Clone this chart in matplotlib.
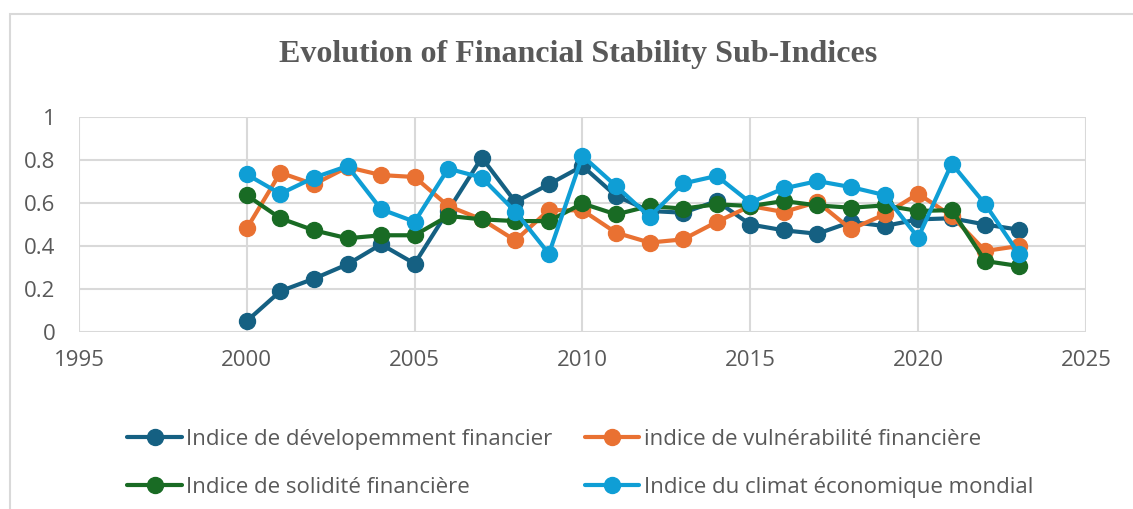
import matplotlib.pyplot as plt
from matplotlib.patches import Rectangle

years = list(range(2000, 2024))

dev_fin = [0.051, 0.19, 0.248, 0.315, 0.408, 0.318, 0.565, 0.811, 0.605, 0.687,
           0.772, 0.633, 0.563, 0.555, 0.609, 0.50, 0.473, 0.457, 0.512, 0.493,
           0.524, 0.529, 0.50, 0.476]
vuln_fin = [0.482, 0.741, 0.687, 0.767, 0.73, 0.721, 0.586, 0.524, 0.426, 0.567,
            0.566, 0.462, 0.416, 0.431, 0.512, 0.586, 0.558, 0.605, 0.478, 0.547,
            0.643, 0.54, 0.377, 0.40]
solid_fin = [0.636, 0.529, 0.473, 0.436, 0.45, 0.45, 0.54, 0.524, 0.516, 0.516,
             0.598, 0.547, 0.586, 0.574, 0.594, 0.586, 0.609, 0.589, 0.578, 0.589,
             0.563, 0.567, 0.33, 0.307]
climat = [0.733, 0.643, 0.718, 0.772, 0.571, 0.513, 0.76, 0.718, 0.56, 0.364,
          0.819, 0.679, 0.536, 0.691, 0.726, 0.602, 0.668, 0.702, 0.674, 0.637,
          0.439, 0.783, 0.594, 0.364]

series = [
    ("Indice de dévelopemment financier", dev_fin, "#156082"),
    ("indice de vulnérabilité financière", vuln_fin, "#E97132"),
    ("Indice de solidité financière", solid_fin, "#196B24"),
    ("Indice du climat économique mondial", climat, "#0F9ED5"),
]

x_ticks = [1995, 2000, 2005, 2010, 2015, 2020, 2025]
y_ticks = [0, 0.2, 0.4, 0.6, 0.8, 1]
y_labels = ["0", "0.2", "0.4", "0.6", "0.8", "1"]

plt.rcParams['font.family'] = ['Open Sans', 'DejaVu Sans']
grey = '#595959'
gridc = '#D9D9D9'

fig = plt.figure(figsize=(11.33, 5.09), dpi=100)
ax = fig.add_axes([0.0697, 0.3477, 0.8888, 0.4224])

# cadre du graphique
fig.patches.append(Rectangle((10 / 1133, -0.05), 1.2, 1 - 14 / 509 + 0.05,
                             transform=fig.transFigure, fill=False,
                             edgecolor=gridc, linewidth=1.5, zorder=0))

lines = []
for name, vals, col in series:
    ln, = ax.plot(years, vals, color=col, linewidth=3, marker='o', markersize=11.5,
                  label=name, solid_capstyle='round')
    lines.append(ln)

ax.set_xlim(1995, 2025)
ax.set_ylim(0, 1)
ax.set_xticks(x_ticks)
ax.set_yticks(y_ticks)
ax.set_yticklabels(y_labels)
ax.grid(True, color=gridc, linewidth=1.5)
ax.set_axisbelow(True)
for s in ax.spines.values():
    s.set_visible(False)
ax.tick_params(length=0, labelsize=16, labelcolor=grey, pad=13)
ax.tick_params(axis='y', pad=17)

fig.text(0.51, 0.892, "Evolution of Financial Stability Sub-Indices",
         ha='center', va='center', fontsize=23, fontweight='bold',
         color=grey, family='Liberation Serif')

# ordre ligne par ligne comme dans Excel
order = [0, 2, 1, 3]
leg = fig.legend([lines[i] for i in order], [series[i][0] for i in order],
                 loc='center', bbox_to_anchor=(0.512, 0.09), ncol=2,
                 frameon=False, fontsize=16, handlelength=2.45,
                 columnspacing=1.45, labelspacing=1.2, handletextpad=0.2)
for t in leg.get_texts():
    t.set_color(grey)

fig.savefig("out.png", dpi=100)
